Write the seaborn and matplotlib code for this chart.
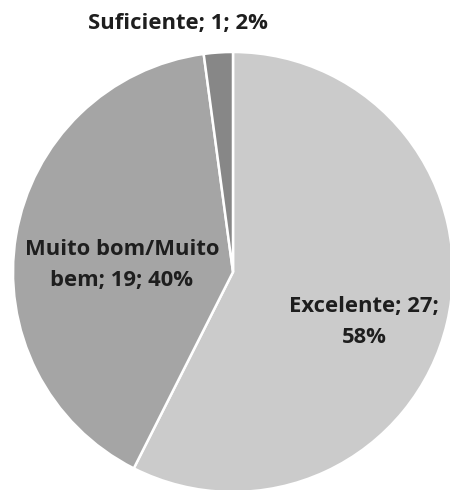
import matplotlib
matplotlib.use("Agg")
import matplotlib.pyplot as plt
import seaborn as sns

# Avaliação: contagens por categoria
categories = ["Excelente", "Muito bom/Muito bem", "Suficiente"]
counts = [27, 19, 1]
percent_labels = ["58%", "40%", "2%"]
colors = ["#cbcbcb", "#a5a5a5", "#878787"]

sns.set_theme(style="white")
plt.rcParams["font.family"] = ["Open Sans", "DejaVu Sans"]

W, H = 450, 490
fig = plt.figure(figsize=(W / 100, H / 100), dpi=100)
ax = fig.add_axes([0, 0, 1, 1])

cx, cy, r = 233, H - 272, 220
ax.pie(
    counts,
    colors=colors,
    startangle=90,
    counterclock=False,
    center=(cx, cy),
    radius=r,
    frame=True,
    wedgeprops=dict(edgecolor="white", linewidth=1.8),
)
ax.set_xlim(0, W)
ax.set_ylim(0, H)
ax.set_aspect("equal")
ax.axis("off")

label_text = [
    f"{categories[0]}; {counts[0]};\n{percent_labels[0]}",
    "Muito bom/Muito\nbem; " + f"{counts[1]}; {percent_labels[1]}",
    f"{categories[2]}; {counts[2]}; {percent_labels[2]}",
]
label_pos = [(364, H - 322), (122, H - 265), (178, H - 24)]
for txt, (x, y) in zip(label_text, label_pos):
    ax.text(x, y, txt, ha="center", va="center", fontsize=15.8,
            fontweight="bold", color="#1e1e1e", linespacing=1.6)

fig.savefig("out.png", dpi=100)
